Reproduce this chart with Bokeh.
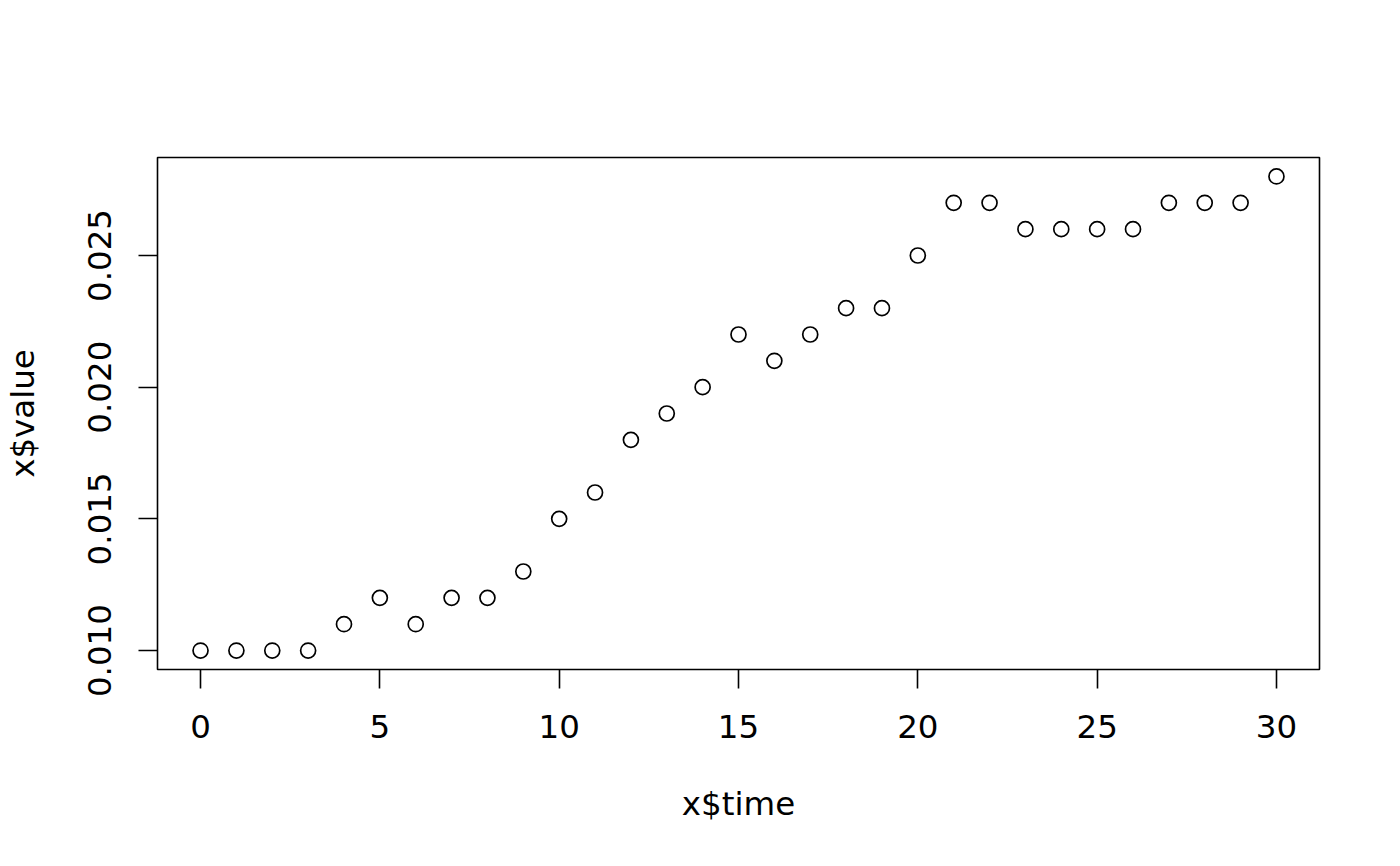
from bokeh.plotting import figure
from bokeh.models import Range1d, FixedTicker, PrintfTickFormatter, ColumnDataSource
from bokeh.embed import file_html
from bokeh.resources import INLINE

time = list(range(31))
value = [0.010, 0.010, 0.010, 0.010, 0.011, 0.012, 0.011, 0.012, 0.012, 0.013,
         0.015, 0.016, 0.018, 0.019, 0.020, 0.022, 0.021, 0.022, 0.023, 0.023,
         0.025, 0.027, 0.027, 0.026, 0.026, 0.026, 0.026, 0.027, 0.027, 0.027,
         0.028]
x_ticks = [0, 5, 10, 15, 20, 25, 30]
y_ticks = [0.010, 0.015, 0.020, 0.025]

src = ColumnDataSource(data=dict(time=time, value=value))

FONT = "DejaVu Sans"

p = figure(width=1384, height=850, output_backend="svg", toolbar_location=None,
           x_range=Range1d(-1.2, 31.2), y_range=Range1d(0.00928, 0.02872),
           min_border_left=157, min_border_right=65, min_border_top=157,
           min_border_bottom=181)

p.scatter("time", "value", source=src, marker="circle", size=15,
          fill_color=None, line_color="black", line_width=1.7)

p.xgrid.visible = False
p.ygrid.visible = False
p.outline_line_color = "black"
p.outline_line_width = 1.6
p.background_fill_color = "white"
p.border_fill_color = "white"

for ax in (p.xaxis[0], p.yaxis[0]):
    ax.axis_line_color = None
    ax.major_tick_line_color = "black"
    ax.major_tick_line_width = 1.6
    ax.major_tick_out = 19
    ax.major_tick_in = 0
    ax.minor_tick_line_color = None
    ax.major_label_text_font = FONT
    ax.major_label_text_font_size = "32.5px"
    ax.major_label_text_color = "black"
    ax.axis_label_text_font = FONT
    ax.axis_label_text_font_size = "32.5px"
    ax.axis_label_text_font_style = "normal"
    ax.axis_label_text_color = "black"

p.xaxis[0].ticker = FixedTicker(ticks=x_ticks)
p.yaxis[0].ticker = FixedTicker(ticks=y_ticks)
p.yaxis[0].formatter = PrintfTickFormatter(format="%.3f")
p.yaxis[0].major_label_orientation = "vertical"

p.xaxis[0].axis_label = "x$time"
p.yaxis[0].axis_label = "x$value"
p.xaxis[0].major_label_standoff = 26
p.yaxis[0].major_label_standoff = 27
p.xaxis[0].axis_label_standoff = 44
p.yaxis[0].axis_label_standoff = 44

open("out.html", "w").write(file_html(p, INLINE))
